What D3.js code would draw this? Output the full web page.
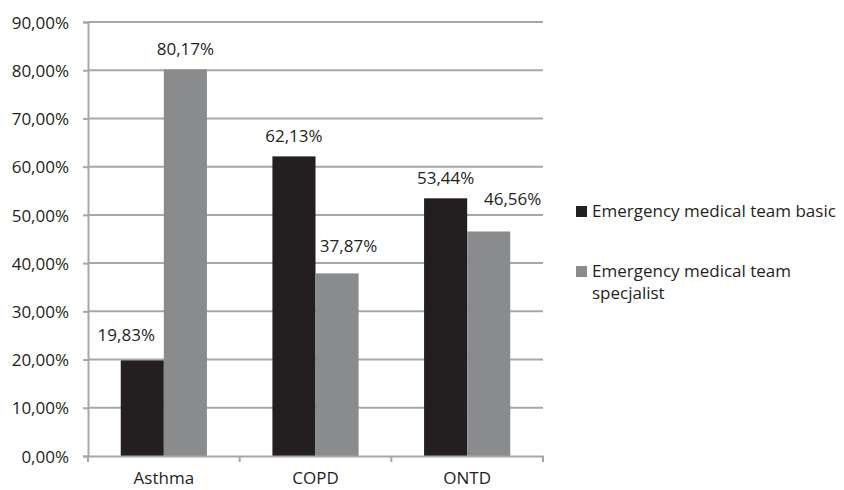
<!DOCTYPE html>
<html>
<head>
<meta charset="utf-8">
<script src="https://cdn.jsdelivr.net/npm/d3@7"></script>
<style>
  body { margin: 0; background: #fff; }
  text { font-family: "Open Sans", sans-serif; font-size: 17px; fill: #231f20; }
</style>
</head>
<body>
<div id="chart"></div>
<script>
// data
const categories = ['Asthma', 'COPD', 'ONTD'];
const seriesNames = ['Emergency medical team basic', 'Emergency medical team specjalist'];
const basicValues = [19.83, 62.13, 53.44];
const specialistValues = [80.17, 37.87, 46.56];
const yTicks = [0, 10, 20, 30, 40, 50, 60, 70, 80, 90];

// hand-moved data labels, as in the original (pixels)
const labelShift = [
  [[-16, -5], [0, 0], [0, 0]],
  [[0, 0], [11.5, -7], [24, -12]]
];

const width = 844;
const height = 490;
const colors = ['#231f20', '#8a8b8d'];
const gridColor = '#a7a7a9';

const svg = d3.select('#chart').append('svg')
  .attr('width', width)
  .attr('height', height);

const x = d3.scaleBand().domain(categories).range([88, 543]);
const xSub = d3.scaleBand().domain([0, 1]).range([0, x.bandwidth()]).paddingOuter(0.76);
const y = d3.scaleLinear().domain([0, 90]).range([456, 22]);

const fmt = v => v.toFixed(2).replace('.', ',') + '%';

// gridlines
svg.append('g')
  .selectAll('line')
  .data(yTicks.filter(d => d > 0))
  .enter()
  .append('line')
  .attr('x1', 88)
  .attr('x2', 543)
  .attr('y1', d => y(d))
  .attr('y2', d => y(d))
  .attr('stroke', gridColor)
  .attr('stroke-width', 2);

// bars
const series = [basicValues, specialistValues];
series.forEach((values, s) => {
  svg.append('g')
    .selectAll('rect')
    .data(values)
    .enter()
    .append('rect')
    .attr('x', (d, i) => x(categories[i]) + xSub(s))
    .attr('y', d => y(d))
    .attr('width', xSub.bandwidth())
    .attr('height', d => y(0) - y(d))
    .attr('fill', colors[s]);
});

// y axis
const yAxis = svg.append('g')
  .attr('transform', 'translate(88,0)')
  .call(d3.axisLeft(y).tickValues(yTicks).tickSize(5).tickPadding(14)
    .tickFormat(d => d.toFixed(2).replace('.', ',') + '%'));
yAxis.select('.domain').attr('stroke', gridColor).attr('stroke-width', 2);
yAxis.selectAll('.tick line').attr('stroke', gridColor).attr('stroke-width', 2);
yAxis.selectAll('.tick text')
  .attr('fill', '#231f20')
  .attr('dy', '0.36em')
  .style('font-family', '"Open Sans", sans-serif')
  .style('font-size', '17px');

// x axis
const xAxis = svg.append('g')
  .attr('transform', 'translate(0,456)')
  .call(d3.axisBottom(x).tickSize(0).tickPadding(0));
xAxis.select('.domain').attr('stroke', gridColor).attr('stroke-width', 2);
xAxis.selectAll('.tick text')
  .attr('fill', '#231f20')
  .attr('y', 28)
  .attr('dy', 0)
  .style('font-family', '"Open Sans", sans-serif')
  .style('font-size', '17px');
xAxis.append('g')
  .selectAll('line')
  .data(categories.concat([null]))
  .enter()
  .append('line')
  .attr('x1', (d, i) => i < categories.length ? x(d) : x.range()[1])
  .attr('x2', (d, i) => i < categories.length ? x(d) : x.range()[1])
  .attr('y1', 0)
  .attr('y2', 6)
  .attr('stroke', gridColor)
  .attr('stroke-width', 2);

// data labels
series.forEach((values, s) => {
  svg.append('g')
    .selectAll('text')
    .data(values)
    .enter()
    .append('text')
    .attr('text-anchor', 'middle')
    .attr('x', (d, i) => x(categories[i]) + xSub(s) + xSub.bandwidth() / 2 + labelShift[s][i][0])
    .attr('y', (d, i) => y(d) - 14.5 + labelShift[s][i][1])
    .text(d => fmt(d));
});

// legend
const legend = svg.append('g').attr('transform', 'translate(576,0)');
const legendRows = [
  { lines: ['Emergency medical team basic'], top: 217 },
  { lines: ['Emergency medical team', 'specjalist'], top: 277 }
];
legendRows.forEach((row, s) => {
  legend.append('rect')
    .attr('x', 0)
    .attr('y', row.top - 11)
    .attr('width', 11)
    .attr('height', 11)
    .attr('fill', colors[s]);
  const t = legend.append('text')
    .attr('x', 16)
    .attr('y', row.top);
  row.lines.forEach((line, k) => {
    t.append('tspan')
      .attr('x', 16)
      .attr('dy', k === 0 ? 0 : 22)
      .text(line);
  });
});
</script>
</body>
</html>
